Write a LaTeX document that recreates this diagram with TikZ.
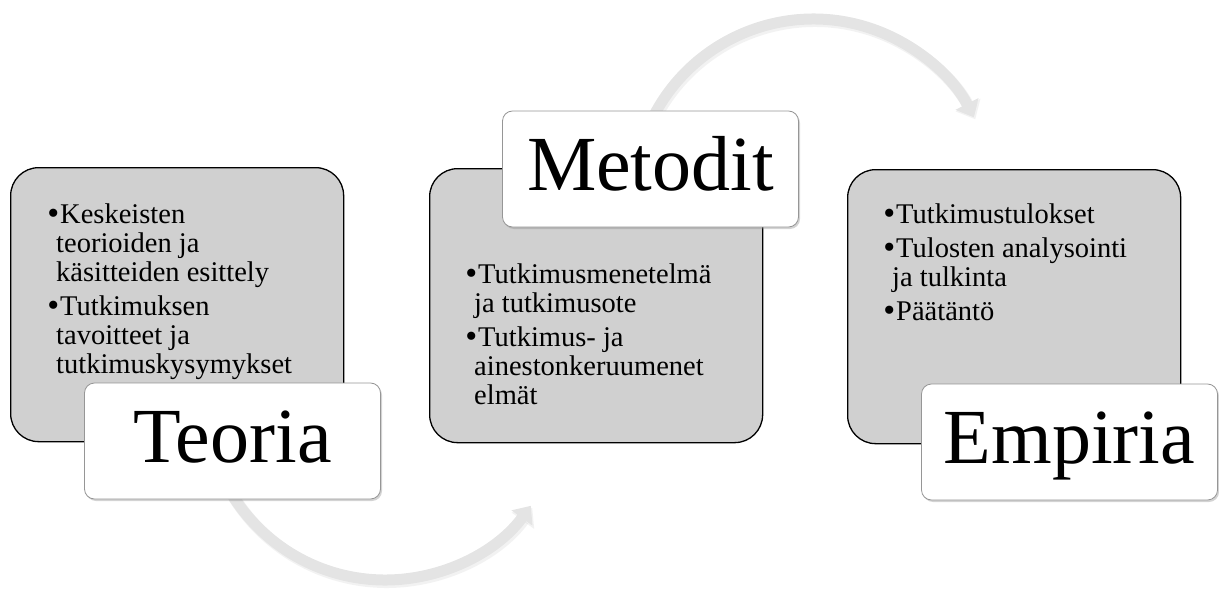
\documentclass[tikz,border=0pt]{standalone}
\usepackage{fontspec}
\setmainfont{Liberation Serif}
\usetikzlibrary{arrows.meta,shadows,calc,backgrounds}

\definecolor{panelfill}{RGB}{208,208,208}
\definecolor{tagline}{RGB}{150,150,150}
\definecolor{flowfill}{RGB}{228,228,228}
\definecolor{flowshade}{RGB}{170,170,170}

% bullet hanging to the left of the first line of an item
\newcommand\itemdot{\hspace*{4pt}\llap{\raisebox{-1.5pt}{\fontsize{34}{29}\selectfont •}\hspace{1pt}}}

\tikzset{
  panel/.style={draw=black, line width=1.3pt, fill=panelfill,
    rounded corners=28pt, minimum width=333pt, minimum height=274pt,
    anchor=north west, inner sep=0pt},
  tag/.style={draw=tagline, line width=0.8pt, fill=white, rounded corners=10pt,
    minimum width=296pt, minimum height=116pt, inner sep=0pt,
    font=\fontsize{78}{86}\selectfont, text height=53pt, text depth=11pt,
    drop shadow={shadow xshift=1.5pt, shadow yshift=-2pt, opacity=0.35}},
  bullets/.style={anchor=base west, inner sep=0pt},
  flow/.style={line width=11pt, draw=flowfill,
    -{Triangle[width=25pt,length=15pt]}},
  flowshadow/.style={line width=12pt, draw=flowshade, opacity=0.15,
    -{Triangle[width=27pt,length=16pt]}},
}

\newcommand\itemtext[1]{\parbox[t]{320pt}{\fontsize{28.5}{29}\selectfont\raggedright #1}}

\begin{document}
\begin{tikzpicture}[x=1pt,y=1pt]
  \useasboundingbox (0,0) rectangle (1219,-594);

  % grey content panels
  \node[panel] (p1) at (10,-167) {};
  \node[panel] (p2) at (429,-168) {};
  \node[panel] (p3) at (847,-169) {};

  % bullet texts
  \node[bullets] (t1) at (56,-223) {\itemtext{%
    \itemdot Keskeisten\\ teorioiden ja\\ käsitteiden esittely\\[5pt]
    \itemdot Tutkimuksen\\ tavoitteet ja\\ tutkimuskysymykset}};
  \node[bullets] (t2) at (474,-283) {\itemtext{%
    \itemdot Tutkimusmenetelmä\\ ja tutkimusote\\[5pt]
    \itemdot Tutkimus- ja\\ ainestonkeruumenet\\ elmät}};
  \node[bullets] (t3) at (892,-223) {\itemtext{%
    \itemdot Tutkimustulokset\\[5pt]
    \itemdot Tulosten analysointi\\ ja tulkinta\\[5pt]
    \itemdot Päätäntö}};

  % title tags
  \node[tag] (teoria)  at (232.5,-441) {Teoria};
  \node[tag] (metodit) at (650.5,-169) {Metodit};
  \node[tag] (empiria) at (1069.5,-442) {Empiria};

  % curved flow arrows between the stages
  \begin{scope}[on background layer]
    \draw[flowshadow] ($(teoria.south)+(1.5,2)$) arc[start angle=212, end angle=324, radius=180];
    \draw[flow] ($(teoria.south)+(0,4)$) arc[start angle=212, end angle=324, radius=180];
    \draw[flowshadow] ($(metodit.north)+(-2.5,-23)$) arc[start angle=158, end angle=27, radius=180];
    \draw[flow] ($(metodit.north)+(-4,-21)$) arc[start angle=158, end angle=27, radius=180];
  \end{scope}
\end{tikzpicture}
\end{document}
